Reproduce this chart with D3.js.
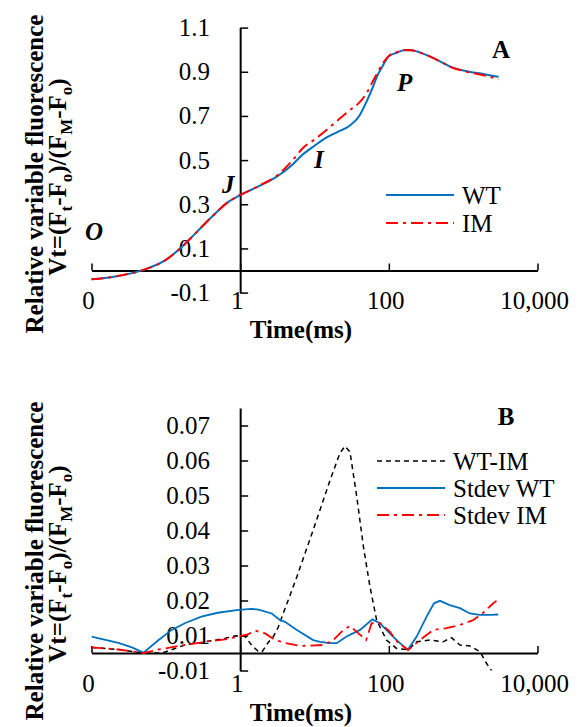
<!DOCTYPE html>
<html><head><meta charset="utf-8">
<script src="https://cdn.jsdelivr.net/npm/d3@7"></script>
</head><body style="margin:0;background:#fff">
<svg id="fig" width="579" height="727" style="font-family: Tinos, 'Times New Roman', 'Liberation Serif', serif"></svg>
<script>
// ---------- data ----------
const xTicks = [0.01, 1, 100, 10000];
const xTickLabels = ["0", "1", "100", "10,000"];
const yTicksA = [-0.1, 0.1, 0.3, 0.5, 0.7, 0.9, 1.1];
const yTickLabelsA = ["-0.1", "0.1", "0.3", "0.5", "0.7", "0.9", "1.1"];
const yTicksB = [-0.005, 0.005, 0.015, 0.025, 0.035, 0.045, 0.055, 0.065];
const yTickLabelsB = ["-0.01", "0.01", "0.02", "0.03", "0.04", "0.05", "0.06", "0.07"];

// Panel A: OJIP transients
const timeA = [0.01, 0.02, 0.05, 0.1, 0.15, 0.25, 0.4, 0.7, 1, 1.5, 2, 3, 5, 7, 10, 15, 20, 30, 40, 50, 60, 70, 80, 100, 130, 160, 200, 300, 500, 700, 1000, 2000, 3000];
const wtA = [-0.040, -0.028, 0.003, 0.048, 0.095, 0.168, 0.238, 0.312, 0.342, 0.370, 0.390, 0.422, 0.478, 0.526, 0.565, 0.605, 0.626, 0.657, 0.700, 0.764, 0.825, 0.882, 0.918, 0.970, 0.987, 0.998, 0.997, 0.980, 0.945, 0.920, 0.906, 0.888, 0.877];
const imA = [-0.040, -0.028, 0.003, 0.048, 0.095, 0.168, 0.238, 0.312, 0.342, 0.370, 0.392, 0.425, 0.497, 0.555, 0.593, 0.640, 0.677, 0.727, 0.760, 0.802, 0.853, 0.894, 0.930, 0.972, 0.990, 0.999, 0.997, 0.980, 0.945, 0.920, 0.904, 0.882, 0.866];
const seriesA = ["WT", "IM"];

// Panel B: difference and standard deviations
const timeDiff = [0.01, 0.023, 0.05, 0.09, 0.18, 0.3, 0.63, 0.86, 1.17, 1.45, 1.75, 1.97, 2.38, 2.8, 3.27, 3.45, 5.8, 9.6, 16.2, 22, 25.7, 30, 37, 45.5, 55.7, 68.5, 93, 127, 183, 236, 357, 537, 696, 904, 1232, 1680, 2070, 2540, 3000];
const diffB = [0.0016, 0.001, 0.0, 0.0, 0.0023, 0.003, 0.0042, 0.0049, 0.0047, 0.002, 0.0005, 0.0003, 0.003, 0.0047, 0.0075, 0.0089, 0.0218, 0.0351, 0.0494, 0.0571, 0.0591, 0.0575, 0.0447, 0.0304, 0.019, 0.0094, 0.0037, 0.0013, 0.0009, 0.0032, 0.0037, 0.0032, 0.0044, 0.0023, 0.002, 0.0004, -0.003, -0.0058, -0.009];
const timeStdWT = [0.01, 0.023, 0.035, 0.05, 0.08, 0.12, 0.18, 0.3, 0.5, 0.95, 1.44, 1.76, 2.66, 3.45, 4.0, 5.8, 9.6, 11.9, 16.2, 19.9, 27, 41, 60, 76, 114, 141, 180, 237, 322, 405, 487, 660, 904, 1232, 1680, 2290, 2960];
const stdWT = [0.0047, 0.0029, 0.0016, 0.0001, 0.0037, 0.0066, 0.0085, 0.0104, 0.0115, 0.0123, 0.0126, 0.0124, 0.0113, 0.0094, 0.0089, 0.0066, 0.0037, 0.0032, 0.0028, 0.0028, 0.0047, 0.0066, 0.0096, 0.0085, 0.0047, 0.0028, 0.0009, 0.0047, 0.0104, 0.0142, 0.0149, 0.0137, 0.0128, 0.0113, 0.0109, 0.0109, 0.011];
const timeStdIM = [0.01, 0.023, 0.05, 0.08, 0.18, 0.34, 0.63, 0.95, 1.29, 1.59, 2.17, 2.95, 4.0, 6.4, 13.2, 17.9, 24.5, 30, 39, 49.5, 58.7, 76, 103, 134, 183, 262, 396, 597, 904, 1364, 1860, 2540, 2810];
const stdIM = [0.0016, 0.001, 0.0, 0.001, 0.0023, 0.0032, 0.0039, 0.0047, 0.0054, 0.0064, 0.0056, 0.0037, 0.0029, 0.002, 0.0023, 0.0037, 0.0066, 0.0077, 0.0056, 0.0037, 0.0085, 0.0085, 0.0061, 0.0028, 0.0009, 0.0037, 0.0066, 0.0071, 0.008, 0.0094, 0.0115, 0.0142, 0.0149];
const seriesB = ["WT-IM", "Stdev WT", "Stdev IM"];

// ---------- styles ----------
const FONT = "Tinos";
const BLUE = "#0070C0", RED = "#FF0000";
const RED_DASH = "12,5,3,5";
const BLACK_DASH = "5,4";

const svg = d3.select("#fig");
const x = d3.scaleLog().domain([0.01, 10000]).range([91.5, 537.5]);
const yA = d3.scaleLinear().domain([-0.1, 1.1]).range([292.6, 27.6]);
const yB = d3.scaleLinear().domain([-0.005, 0.07]).range([670.5, 408]);

function txt(sel) { return sel.append("text").style("font-family", FONT).attr("fill", "#000"); }

function drawAxes(y, ticks, labels) {
  const g = svg.append("g");
  const y0 = y(0);
  g.append("g").attr("transform", `translate(0,${y0})`)
    .call(d3.axisBottom(x).tickValues(xTicks).tickSize(-7).tickSizeOuter(0).tickFormat(""))
    .call(s => { s.select(".domain").attr("stroke", "#000").attr("stroke-width", 2);
                 s.selectAll(".tick line").attr("stroke", "#000").attr("stroke-width", 1.5); });
  g.append("g").attr("transform", `translate(${x(1)},0)`)
    .call(d3.axisRight(y).tickValues(ticks).tickSize(8).tickSizeOuter(0).tickFormat(""))
    .call(s => { s.select(".domain").attr("stroke", "#000").attr("stroke-width", 2);
                 s.selectAll(".tick line").attr("stroke", "#000").attr("stroke-width", 1.5); });
  g.selectAll(".ylab").data(ticks).enter().append("text")
    .style("font-family", FONT)
    .attr("x", 210).attr("y", d => y(d) + 8.5).attr("text-anchor", "end")
    .attr("font-size", 25).text((d, i) => labels[i]);
  g.selectAll(".xlab").data(xTicks).enter().append("text")
    .style("font-family", FONT)
    .attr("x", d => x(d) - 3).attr("y", y0 + 38.5).attr("text-anchor", "middle")
    .attr("font-size", 25).text((d, i) => xTickLabels[i]);
  txt(g).attr("x", 301).attr("y", y0 + 67.5).attr("text-anchor", "middle")
    .attr("font-size", 25).attr("font-weight", "bold").text("Time(ms)");
}

function yTitle(cy) {
  txt(svg).attr("transform", `translate(43,${cy}) rotate(-90)`)
    .attr("text-anchor", "middle").attr("font-size", 25).attr("font-weight", "bold")
    .text("Relative variable fluorescence");
  const t2 = txt(svg).attr("transform", `translate(66,${cy + 3}) rotate(-90)`)
    .attr("text-anchor", "middle").attr("font-size", 25).attr("font-weight", "bold");
  const parts = [["Vt=(F", 0], ["t", 1], ["-F", 0], ["o", 1], [")/(F", 0], ["M", 1], ["-F", 0], ["o", 1], [")", 0]];
  let prev = 0;
  parts.forEach(([s, sub]) => {
    const dy = sub ? 6 : (prev ? -6 : 0);
    t2.append("tspan").attr("dy", dy).attr("font-size", sub ? 17 : 25).text(s);
    prev = sub;
  });
}

// ---------- Panel A ----------
drawAxes(yA, yTicksA, yTickLabelsA);
yTitle(174);
const lineA = vals => d3.line().curve(d3.curveMonotoneX)
  .x((d, i) => x(timeA[i])).y(d => yA(d))(vals);
svg.append("path").attr("d", lineA(wtA)).attr("fill", "none").attr("stroke", BLUE).attr("stroke-width", 2);
svg.append("path").attr("d", lineA(imA)).attr("fill", "none").attr("stroke", RED).attr("stroke-width", 2)
  .attr("stroke-dasharray", RED_DASH);

// phase labels
[["O", 85, 240], ["J", 222, 193], ["I", 314, 168], ["P", 397, 91]].forEach(([s, px, py]) => {
  txt(svg).attr("x", px).attr("y", py).attr("font-size", 25)
    .attr("font-weight", "bold").attr("font-style", "italic").text(s);
});
txt(svg).attr("x", 501).attr("y", 58).attr("text-anchor", "middle")
  .attr("font-size", 25).attr("font-weight", "bold").text("A");

// legend A
const legA = [{c: BLUE, d: null}, {c: RED, d: RED_DASH}];
legA.forEach((L, i) => {
  const ly = 195 + i * 28;
  svg.append("line").attr("x1", 386).attr("x2", 454).attr("y1", ly).attr("y2", ly)
    .attr("stroke", L.c).attr("stroke-width", 2).attr("stroke-dasharray", L.d);
  txt(svg).attr("x", 462).attr("y", ly + 8.5).attr("font-size", 25).text(seriesA[i]);
});

// ---------- Panel B ----------
drawAxes(yB, yTicksB, yTickLabelsB);
yTitle(561);
svg.append("clipPath").attr("id", "clipB").append("rect")
  .attr("x", x(0.01)).attr("y", yB(0.07)).attr("width", x(10000) - x(0.01)).attr("height", yB(-0.005) - yB(0.07));
const lineB = (times, vals) => d3.line().x((d, i) => x(times[i])).y(d => yB(d))(vals);
const gB = svg.append("g").attr("clip-path", "url(#clipB)");
gB.append("path").attr("d", lineB(timeDiff, diffB)).attr("fill", "none").attr("stroke", "#000")
  .attr("stroke-width", 1.5).attr("stroke-dasharray", BLACK_DASH);
gB.append("path").attr("d", lineB(timeStdWT, stdWT)).attr("fill", "none").attr("stroke", BLUE).attr("stroke-width", 1.8);
gB.append("path").attr("d", lineB(timeStdIM, stdIM)).attr("fill", "none").attr("stroke", RED).attr("stroke-width", 1.8)
  .attr("stroke-dasharray", RED_DASH);

txt(svg).attr("x", 506).attr("y", 425).attr("text-anchor", "middle")
  .attr("font-size", 25).attr("font-weight", "bold").text("B");

const legB = [{c: "#000", d: BLACK_DASH, w: 1.5}, {c: BLUE, d: null, w: 1.8}, {c: RED, d: RED_DASH, w: 1.8}];
legB.forEach((L, i) => {
  const ly = 461 + i * 27;
  svg.append("line").attr("x1", 377).attr("x2", 445).attr("y1", ly).attr("y2", ly)
    .attr("stroke", L.c).attr("stroke-width", L.w).attr("stroke-dasharray", L.d);
  txt(svg).attr("x", 453).attr("y", ly + 8.5).attr("font-size", 25).text(seriesB[i]);
});
</script>
</body></html>
